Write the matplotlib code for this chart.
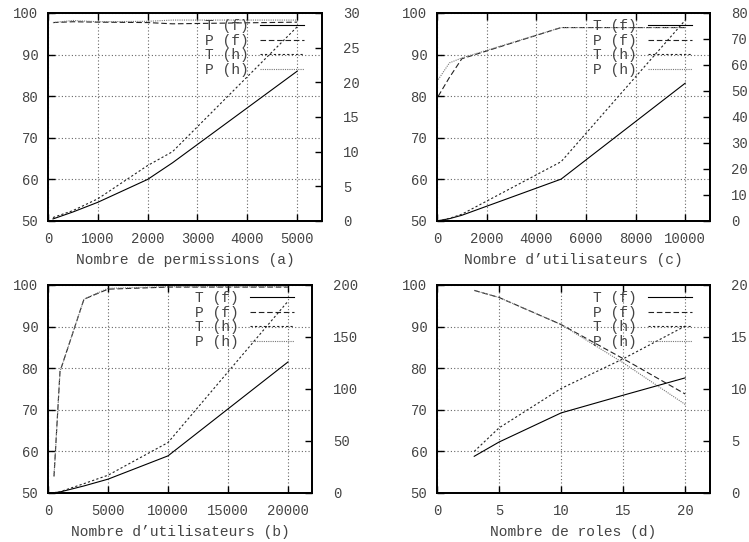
import matplotlib
matplotlib.use("Agg")
import matplotlib.pyplot as plt

plt.rcParams['font.family'] = ['Liberation Mono', 'DejaVu Sans Mono']
plt.rcParams['font.size'] = 10.5
TXT = '#444444'

# (a) nombre de permissions
x_a = [100, 500, 1000, 2000, 2500, 5000]
tf_a = [0.3, 1.3, 2.7, 6.0, 8.4, 21.6]
pf_a = [97.7, 97.9, 97.8, 97.7, 97.4, 97.8]
th_a = [0.5, 1.5, 3.2, 8.0, 10.0, 28.0]
ph_a = [97.7, 98.2, 97.9, 98.0, 98.3, 98.3]

# (c) nombre d'utilisateurs
x_c = [50, 500, 1000, 5000, 10000]
tf_c = [0.1, 0.9, 2.2, 16.1, 53.0]
pf_c = [80.0, 84.5, 89.0, 96.5, 96.5]
th_c = [0.1, 1.0, 2.6, 22.8, 77.2]
ph_c = [84.0, 88.0, 89.2, 96.5, 96.5]

# (b) nombre d'utilisateurs
x_b = [500, 1000, 3000, 5000, 10000, 20000]
tf_b = [0.3, 1.0, 6.8, 13.3, 35.7, 126.0]
pf_b = [54.0, 79.2, 96.6, 99.0, 99.5, 99.5]
th_b = [0.3, 1.2, 9.0, 17.1, 48.5, 184.4]
ph_b = [54.0, 79.2, 96.6, 99.2, 99.6, 99.6]

# (d) nombre de roles
x_d = [3, 5, 10, 15, 20]
tf_d = [3.53, 4.9, 7.7, 9.4, 11.07]
pf_d = [98.7, 97.0, 90.5, 82.3, 73.8]
th_d = [4.0, 6.26, 10.05, 12.9, 16.05]
ph_d = [98.7, 97.0, 90.5, 81.3, 71.3]

labels = ['T (f)', 'P (f)', 'T (h)', 'P (h)']

panels = [
    # rect, x, tf, pf, th, ph, xlim, xticks, y2max, y2step, xlabel
    ([48, 13, 322, 221], x_a, tf_a, pf_a, th_a, ph_a, 5500, range(0, 5001, 1000), 30, 5,
     'Nombre de permissions (a)'),
    ([437, 13, 710, 221], x_c, tf_c, pf_c, th_c, ph_c, 11000, range(0, 10001, 2000), 80, 10,
     'Nombre d\u2019utilisateurs (c)'),
    ([48, 285, 312, 493], x_b, tf_b, pf_b, th_b, ph_b, 22000, range(0, 20001, 5000), 200, 50,
     'Nombre d\u2019utilisateurs (b)'),
    ([437, 285, 710, 493], x_d, tf_d, pf_d, th_d, ph_d, 22, range(0, 21, 5), 20, 5,
     'Nombre de roles (d)'),
]

W, H = 749, 542
fig = plt.figure(figsize=(W / 100, H / 100), dpi=100)

for rect, x, tf, pf, th, ph, xmax, xt, y2max, y2step, xlabel in panels:
    l, t, r, b = rect
    ax = fig.add_axes([l / W, 1 - b / H, (r - l) / W, (b - t) / H])
    ax2 = ax.twinx()

    ax.set_xlim(0, xmax)
    ax.set_ylim(50, 100)
    ax2.set_ylim(0, y2max)
    ax.set_xticks(list(xt))
    ax.set_yticks(range(50, 101, 10))
    ax2.set_yticks(range(0, y2max + 1, y2step))

    ax.grid(True, color='#666666', linestyle=(0, (1, 2)), linewidth=0.8)
    ax.set_axisbelow(True)

    h_pf, = ax.plot(x, pf, color='#222222', lw=0.8, linestyle=(0, (5, 2.5)))
    h_ph, = ax.plot(x, ph, color='#777777', lw=0.8, linestyle=(0, (1, 1)))
    h_tf, = ax2.plot(x, tf, color='black', lw=0.8)
    h_th, = ax2.plot(x, th, color='#222222', lw=0.8, linestyle=(0, (2, 2)))

    for a in (ax, ax2):
        for s in a.spines.values():
            s.set_linewidth(1.3)
            s.set_color('black')
    ax.tick_params(axis='both', direction='in', length=5, width=1, colors='black',
                   labelcolor=TXT, labelsize=10, top=True)
    ax.tick_params(axis='x', pad=8)
    ax.tick_params(axis='y', pad=7)
    ax2.tick_params(axis='y', direction='in', length=5, width=1, colors='black',
                    labelcolor=TXT, labelsize=10, pad=15)
    ax.set_xlabel(xlabel, color=TXT, fontsize=10.5, labelpad=5)

    wpx, hpx = r - l, b - t
    leg = ax2.legend([h_tf, h_pf, h_th, h_ph], labels, loc='upper right',
                     bbox_to_anchor=(1 - 18 / wpx, 1 - 6 / hpx), borderaxespad=0,
                     borderpad=0, frameon=False, markerfirst=False, fontsize=10.5,
                     handlelength=3.0, handletextpad=0.8, labelspacing=0.05)
    for txt in leg.get_texts():
        txt.set_color(TXT)

fig.savefig('out.png', dpi=100)
